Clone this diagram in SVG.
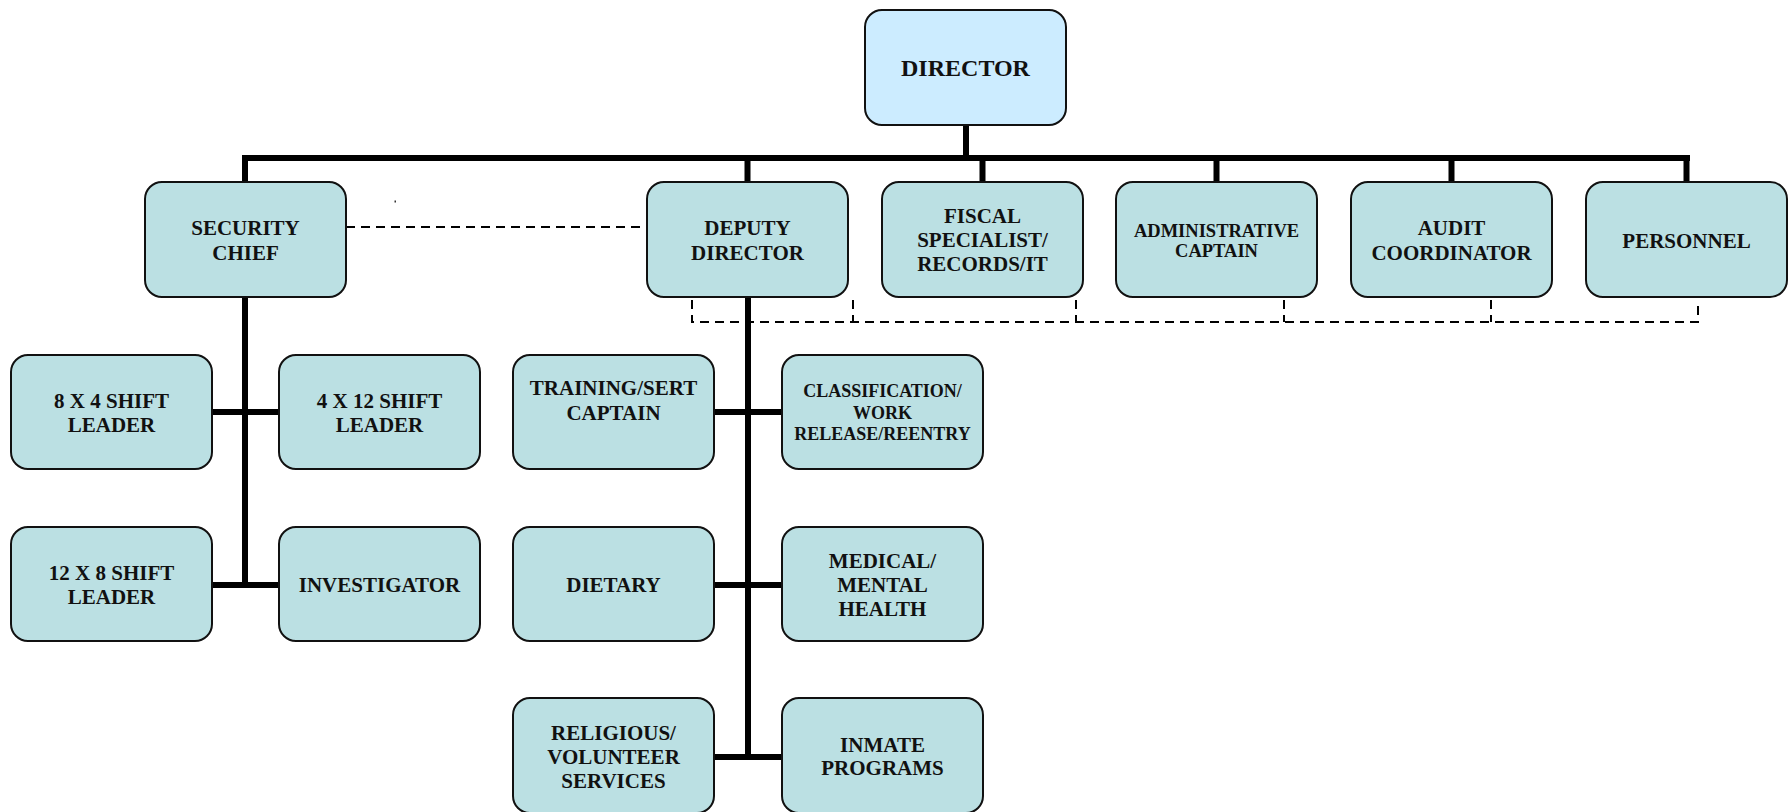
<svg xmlns="http://www.w3.org/2000/svg" width="1788" height="812" viewBox="0 0 1788 812">
<style>
.box{fill:#BBE0E3;stroke:#111;stroke-width:2}
.top{fill:#CCECFF;stroke:#111;stroke-width:2}
text{font-family:"Liberation Serif","Times New Roman",serif;font-weight:bold;fill:#111;text-anchor:middle;font-size:21px}
.sm{font-size:18.5px}
.xs{font-size:18px}
.big{font-size:24px}
.solid{stroke:#000;stroke-width:6;fill:none}
.dash{stroke:#000;stroke-width:2;fill:none;stroke-dasharray:9 6}
</style>
<rect width="1788" height="812" fill="#fff"/>
<g id="connectors">
<path class="solid" d="M966,124V158M242,158H1690M245,158V183M747.5,158V183M982.5,158V183M1216.5,158V183M1451.5,158V183M1686.5,158V183"/>
<path class="solid" d="M245,296V588M211,412H280M211,585H280"/>
<path class="solid" d="M748,296V760M714,412H783M714,585H783M714,757H783"/>
<path class="dash" d="M346,227H647"/>
<path class="dash" d="M692,300V322H1698V300M853,300V322M1076,300V322M1284,300V322M1491,300V322"/>
<rect x="394.5" y="200.5" width="1.5" height="2" fill="#333"/>
</g>
<g id="director"><rect class="top" x="865" y="10" width="201" height="115" rx="17"/><text class="big" x="965.5" y="76">DIRECTOR</text></g>
<g id="security-chief"><rect class="box" x="145" y="182" width="201" height="115" rx="17"/><text x="245.5" y="235">SECURITY</text><text x="245.5" y="260">CHIEF</text></g>
<g id="deputy-director"><rect class="box" x="647" y="182" width="201" height="115" rx="17"/><text x="747.5" y="235">DEPUTY</text><text x="747.5" y="260">DIRECTOR</text></g>
<g id="fiscal"><rect class="box" x="882" y="182" width="201" height="115" rx="17"/><text x="982.5" y="223">FISCAL</text><text x="982.5" y="247">SPECIALIST/</text><text x="982.5" y="271">RECORDS/IT</text></g>
<g id="administrative-captain"><rect class="box" x="1116" y="182" width="201" height="115" rx="17"/><text class="sm" x="1216.5" y="236.5">ADMINISTRATIVE</text><text class="sm" x="1216.5" y="256.5">CAPTAIN</text></g>
<g id="audit-coordinator"><rect class="box" x="1351" y="182" width="201" height="115" rx="17"/><text x="1451.5" y="235">AUDIT</text><text x="1451.5" y="260">COORDINATOR</text></g>
<g id="personnel"><rect class="box" x="1586" y="182" width="201" height="115" rx="17"/><text x="1686.5" y="247.5">PERSONNEL</text></g>
<g id="shift-8x4"><rect class="box" x="11" y="355" width="201" height="114" rx="17"/><text x="111.5" y="408">8 X 4 SHIFT</text><text x="111.5" y="432">LEADER</text></g>
<g id="shift-4x12"><rect class="box" x="279" y="355" width="201" height="114" rx="17"/><text x="379.5" y="408">4 X 12 SHIFT</text><text x="379.5" y="432">LEADER</text></g>
<g id="shift-12x8"><rect class="box" x="11" y="527" width="201" height="114" rx="17"/><text x="111.5" y="580">12 X 8 SHIFT</text><text x="111.5" y="603.5">LEADER</text></g>
<g id="investigator"><rect class="box" x="279" y="527" width="201" height="114" rx="17"/><text x="379.5" y="591.5">INVESTIGATOR</text></g>
<g id="training"><rect class="box" x="513" y="355" width="201" height="114" rx="17"/><text x="613.5" y="395">TRAINING/SERT</text><text x="613.5" y="420">CAPTAIN</text></g>
<g id="classification"><rect class="box" x="782" y="355" width="201" height="114" rx="17"/><text class="xs" x="882.5" y="396.5">CLASSIFICATION/</text><text class="xs" x="882.5" y="418.5">WORK</text><text class="xs" x="882.5" y="439.5">RELEASE/REENTRY</text></g>
<g id="dietary"><rect class="box" x="513" y="527" width="201" height="114" rx="17"/><text x="613.5" y="591.5">DIETARY</text></g>
<g id="medical"><rect class="box" x="782" y="527" width="201" height="114" rx="17"/><text x="882.5" y="568">MEDICAL/</text><text x="882.5" y="592">MENTAL</text><text x="882.5" y="616">HEALTH</text></g>
<g id="religious"><rect class="box" x="513" y="698" width="201" height="115" rx="17"/><text x="613.5" y="740">RELIGIOUS/</text><text x="613.5" y="763.5">VOLUNTEER</text><text x="613.5" y="788">SERVICES</text></g>
<g id="inmate-programs"><rect class="box" x="782" y="698" width="201" height="115" rx="17"/><text x="882.5" y="751.5">INMATE</text><text x="882.5" y="775">PROGRAMS</text></g>
</svg>
